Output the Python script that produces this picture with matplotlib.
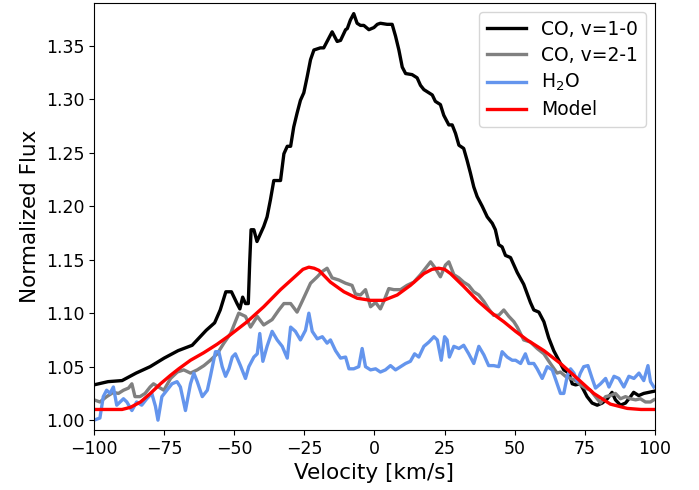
import matplotlib
matplotlib.use("Agg")
from matplotlib import pyplot as plt

# CO v=1-0 (black)
co10_v = [-100, -95, -90, -85, -80, -75, -70, -65, -60, -57, -55, -53, -51, -49, -48, -47, -46, -45, -44.5, -44,
          -43, -41.9, -39.5, -38.3, -37.1, -35.9, -33.5, -32.3, -31.1, -29.9, -28.8, -27.6, -26.4, -25.2, -24.0,
          -22.8, -21.6, -19.3, -18.1, -16.9, -15.1, -13.3, -12.1, -10.3, -9.7, -8.6, -7.4, -6.2, -5.0, -3.8, -2.0,
          -0.2, 1.0, 2.1, 4.5, 6.3, 7.5, 8.7, 9.9, 11.1, 13.4, 15.2, 16.4, 17.6, 19.4, 20.6, 21.7, 23.5, 24.7,
          26.5, 27.7, 28.9, 30.1, 31.8, 33.0, 34.2, 35.4, 36.6, 38.4, 40.2, 42.0, 43.1, 44.3, 45.5, 46.7, 48.5,
          50.9, 53.2, 55.6, 56.8, 58.6, 60.4, 62.1, 63.9, 65.7, 67.5, 69.3, 70.5, 71.7, 73.4, 74.6, 75.8, 77.6,
          79.4, 81.2, 83.0, 84.7, 85.9, 87.7, 89.5, 91.3, 92.4, 94.2, 96.0, 97.8, 99.6]
co10_f = [1.033, 1.036, 1.037, 1.044, 1.050, 1.058, 1.065, 1.070, 1.084, 1.091, 1.103, 1.120, 1.120, 1.109, 1.104,
          1.115, 1.109, 1.109, 1.147, 1.178, 1.178, 1.167, 1.181, 1.190, 1.206, 1.224, 1.224, 1.249, 1.256, 1.256,
          1.274, 1.287, 1.299, 1.306, 1.321, 1.337, 1.346, 1.348, 1.348, 1.354, 1.363, 1.354, 1.355, 1.365, 1.366,
          1.374, 1.380, 1.371, 1.369, 1.369, 1.365, 1.367, 1.370, 1.371, 1.370, 1.370, 1.359, 1.346, 1.330, 1.324,
          1.323, 1.320, 1.313, 1.309, 1.306, 1.304, 1.298, 1.295, 1.285, 1.276, 1.276, 1.268, 1.257, 1.254, 1.243,
          1.231, 1.218, 1.209, 1.200, 1.190, 1.184, 1.178, 1.164, 1.162, 1.154, 1.152, 1.138, 1.127, 1.110, 1.103,
          1.101, 1.092, 1.077, 1.065, 1.056, 1.047, 1.044, 1.034, 1.033, 1.034, 1.028, 1.022, 1.016, 1.014, 1.016,
          1.020, 1.026, 1.019, 1.014, 1.016, 1.022, 1.026, 1.023, 1.025, 1.026, 1.027]

# CO v=2-1 (gray)
co21_v = [-100, -97.9, -95.5, -93.1, -91.3, -89.5, -87.7, -86.5, -85.4, -83.6, -81.8, -80.0, -78.8, -77.0, -75.1,
          -72.7, -70.3, -68.0, -65.6, -63.2, -60.8, -58.5, -56.1, -53.7, -51.3, -48.4, -46.0, -44.2, -41.8, -39.5,
          -36.5, -34.1, -32.3, -29.9, -27.6, -25.8, -22.8, -20.4, -18.6, -16.9, -15.1, -12.7, -10.3, -8.0, -6.8,
          -5.0, -3.2, -1.4, 0.4, 2.1, 3.3, 5.1, 6.9, 9.3, 11.6, 14.0, 16.4, 18.2, 20.0, 21.7, 23.5, 25.3, 26.5,
          28.3, 30.1, 31.8, 33.6, 35.4, 37.2, 39.0, 40.7, 42.5, 44.3, 46.1, 47.9, 49.7, 50.9, 53.2, 55.6, 58.0,
          60.4, 62.7, 65.1, 66.3, 68.1, 69.9, 71.7, 73.4, 75.2, 77.0, 79.4, 80.6, 82.4, 84.1, 85.9, 87.7, 89.5,
          91.3, 93.1, 94.8, 96.6, 98.4, 99.6]
co21_f = [1.019, 1.017, 1.022, 1.026, 1.025, 1.028, 1.030, 1.034, 1.022, 1.022, 1.025, 1.031, 1.034, 1.031, 1.028,
          1.039, 1.045, 1.047, 1.044, 1.047, 1.051, 1.056, 1.062, 1.072, 1.081, 1.100, 1.097, 1.087, 1.097, 1.089,
          1.094, 1.103, 1.109, 1.109, 1.101, 1.111, 1.128, 1.134, 1.139, 1.142, 1.133, 1.131, 1.128, 1.126, 1.118,
          1.117, 1.122, 1.106, 1.110, 1.104, 1.111, 1.123, 1.122, 1.122, 1.126, 1.129, 1.136, 1.142, 1.148, 1.142,
          1.134, 1.145, 1.148, 1.136, 1.133, 1.129, 1.126, 1.120, 1.117, 1.111, 1.104, 1.098, 1.098, 1.103, 1.097,
          1.092, 1.087, 1.075, 1.073, 1.067, 1.062, 1.053, 1.044, 1.045, 1.041, 1.039, 1.037, 1.033, 1.030, 1.028,
          1.020, 1.016, 1.022, 1.023, 1.025, 1.020, 1.022, 1.020, 1.019, 1.020, 1.017, 1.017, 1.019]

# H2O (blue)
h2o_v = [-100, -97.9, -96.7, -95.5, -94.3, -93.1, -91.9, -90.7, -89.5, -88.3,
         -86.5, -84.8, -83.0, -81.2, -79.4, -78.1, -77.2, -75.8, -74.0, -72.2,
         -70.4, -69.2, -67.4, -65.6, -64.4, -63.2, -61.4, -59.6, -58.5, -56.7,
         -55.5, -54.3, -53.1, -51.9, -50.7, -49.6, -47.8, -46.0, -44.8, -43.0,
         -41.8, -40.9, -39.8, -38.3, -36.5, -34.7, -32.9, -31.1, -29.9, -28.2,
         -26.4, -24.6, -23.4, -22.2, -20.4, -18.6, -16.9, -15.7, -13.9, -12.1,
         -10.3, -9.1, -7.4, -5.6, -4.4, -3.2, -1.4, 0.4, 2.1, 3.9,
         5.7, 7.5, 9.3, 11.1, 12.8, 14.3, 15.8, 17.6, 19.4, 21.2,
         22.4, 23.8, 25.0, 25.9, 26.7, 28.3, 30.1, 31.8, 33.6, 35.4,
         37.2, 39.0, 40.7, 42.5, 44.3, 45.5, 47.3, 49.1, 50.3, 52.1,
         53.8, 55.0, 56.8, 58.0, 59.8, 61.6, 63.4, 65.1, 66.3, 67.5,
         68.7, 69.9, 71.1, 72.3, 73.4, 74.6, 76.1, 77.6, 78.8, 80.6,
         82.4, 83.6, 85.4, 87.1, 88.9, 90.7, 92.5, 94.3, 96.0, 97.5,
         98.4, 99.6]
h2o_f = [1.000, 1.002, 1.022, 1.028, 1.025, 1.031, 1.014, 1.017, 1.020, 1.017,
         1.009, 1.017, 1.014, 1.020, 1.025, 1.013, 1.000, 1.022, 1.028, 1.034,
         1.036, 1.031, 1.009, 1.034, 1.044, 1.036, 1.022, 1.028, 1.041, 1.064,
         1.064, 1.050, 1.041, 1.048, 1.059, 1.062, 1.051, 1.039, 1.050, 1.059,
         1.062, 1.081, 1.055, 1.069, 1.083, 1.075, 1.069, 1.058, 1.087, 1.083,
         1.075, 1.084, 1.100, 1.083, 1.076, 1.078, 1.072, 1.075, 1.065, 1.058,
         1.059, 1.048, 1.048, 1.050, 1.067, 1.050, 1.047, 1.048, 1.045, 1.047,
         1.051, 1.047, 1.050, 1.053, 1.055, 1.062, 1.059, 1.069, 1.073, 1.078,
         1.075, 1.056, 1.078, 1.075, 1.059, 1.069, 1.067, 1.070, 1.062, 1.053,
         1.069, 1.061, 1.051, 1.051, 1.050, 1.064, 1.059, 1.056, 1.056, 1.053,
         1.062, 1.053, 1.053, 1.048, 1.039, 1.050, 1.047, 1.034, 1.025, 1.025,
         1.041, 1.048, 1.044, 1.036, 1.044, 1.050, 1.051, 1.039, 1.030, 1.034,
         1.039, 1.031, 1.041, 1.039, 1.031, 1.041, 1.039, 1.044, 1.037, 1.051,
         1.036, 1.031]

# model (red)
model_v = [-100, -95, -90, -87.0, -83.4, -79.9, -76.3, -72.7, -69.8, -65.6, -60.9, -56.1, -51.3, -45.4, -39.5,
           -33.5, -27.6, -25.5, -23.4, -21.5, -19.8, -15.7, -10.9, -6.2, -1.4, 3.3, 8.1, 12.8, 17.6, 20.5, 22.9,
           25.0, 27.1, 31.8, 36.6, 41.4, 46.1, 50.3, 54.4, 60.4, 66.3, 72.3, 78.2, 84.1, 90.1, 95, 100]
model_f = [1.010, 1.010, 1.010, 1.012, 1.017, 1.025, 1.034, 1.042, 1.048, 1.056, 1.063, 1.071, 1.080, 1.092, 1.106,
           1.122, 1.136, 1.141, 1.143, 1.142, 1.140, 1.129, 1.120, 1.114, 1.112, 1.112, 1.117, 1.126, 1.137, 1.141,
           1.142, 1.141, 1.137, 1.125, 1.112, 1.101, 1.092, 1.083, 1.075, 1.065, 1.053, 1.039, 1.025, 1.015, 1.011,
           1.010, 1.010]

xticks = [-100, -75, -50, -25, 0, 25, 50, 75, 100]
yticks = [1.00, 1.05, 1.10, 1.15, 1.20, 1.25, 1.30, 1.35]

fig = plt.figure(figsize=(6.99, 4.90), dpi=100)
ax = fig.add_subplot(111)
fig.subplots_adjust(left=0.1345, right=0.937, top=0.994, bottom=0.122)

ax.plot(co10_v, co10_f, color='black', lw=2.4, label='CO, v=1-0')
ax.plot(co21_v, co21_f, color='gray', lw=2.4, label='CO, v=2-1')
ax.plot(h2o_v, h2o_f, color='cornflowerblue', lw=2.4, label='H$_2$O')
ax.plot(model_v, model_f, color='red', lw=2.4, label='Model')

ax.set_xlim(-100, 100)
ax.set_ylim(0.9906, 1.390)
ax.set_xticks(xticks)
ax.set_yticks(yticks)
ax.set_yticklabels(['%.2f' % t for t in yticks])
ax.tick_params(labelsize=12.5)
ax.set_xlabel('Velocity [km/s]', fontsize=15.5)
ax.set_ylabel('Normalized Flux', fontsize=15.5)
ax.legend(loc='upper right', fontsize=13.5, handlelength=2.1, labelspacing=0.38)

fig.savefig('out.png', dpi=100)
